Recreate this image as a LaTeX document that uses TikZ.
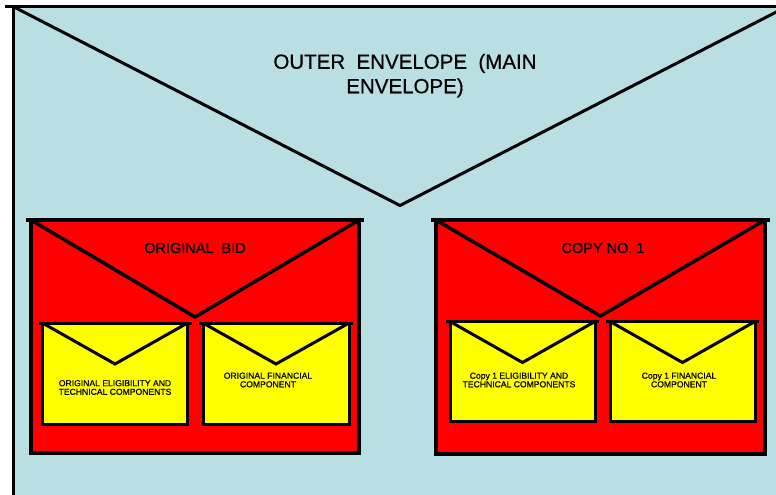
\documentclass[tikz,border=0pt]{standalone}
\usepackage{fontspec}
\setmainfont{Liberation Sans}
\newfontfamily\heavyfont[FakeBold=0.6]{Liberation Sans}
\usetikzlibrary{calc}
\definecolor{envblue}{HTML}{BADFE3}
\definecolor{envred}{HTML}{FF0000}
\definecolor{envyellow}{HTML}{FFFF00}
\tikzset{
  envbox/.style={rectangle, draw=black, inner sep=0pt, outer sep=0pt},
  outerenv/.style={envbox, fill=envblue, line width=3pt},
  redenv/.style={envbox, fill=envred, line width=3.5pt},
  yellowenv/.style={envbox, fill=envyellow, line width=3pt},
  flapline/.style={draw=black, line width=3pt},
  redflap/.style={draw=black, line width=3.5pt},
  bigtitle/.style={align=center, inner sep=0pt, font=\heavyfont\fontsize{20.5}{24.5}\selectfont},
  redtitle/.style={align=center, inner sep=0pt, font=\heavyfont\fontsize{14.5}{17}\selectfont},
  smalltext/.style={align=center, inner sep=0pt, font=\heavyfont\fontsize{8.6}{8.6}\selectfont}
}
\begin{document}
\begin{tikzpicture}[x=1pt,y=-1pt]
\useasboundingbox (0,0) rectangle (776,495);
\clip (0,0) rectangle (776,495);
% outer envelope
\node[outerenv, minimum width=774pt, minimum height=534pt] (main) at (400,273.5) {};
\draw[flapline] ($(main.north west)+(-8,0)$) -- ($(main.north east)+(8,0)$);
\draw[flapline] (main.north west) -- ($(main.north)+(0,199)$) -- (main.north east);
\node[bigtitle] (maintitle) at (405,75.7) {OUTER\ \ ENVELOPE\ \ (MAIN\\ENVELOPE)};
% original bid envelope
\node[redenv, minimum width=328pt, minimum height=233pt] (orig) at (195,336.5) {};
\draw[redflap] ($(orig.north west)+(-5,0)$) -- ($(orig.north east)+(5,0)$);
\draw[redflap] (orig.north west) -- ($(orig.north)+(0,97)$) -- (orig.north east);
\node[redtitle] (origtitle) at (195,248) {ORIGINAL\ \ BID};
% copy envelope
\node[redenv, minimum width=329pt, minimum height=234pt] (copy) at (600.5,337) {};
\draw[redflap] ($(copy.north west)+(-5,0)$) -- ($(copy.north east)+(5,0)$);
\draw[redflap] (copy.north west) -- ($(copy.north)+(0,96)$) -- (copy.north east);
\node[redtitle] (copytitle) at (603,248) {COPY NO. 1};
% inner yellow envelopes
\node[yellowenv, minimum width=145pt, minimum height=101pt] (origtech) at (115,373.5) {};
\node[yellowenv, minimum width=146pt, minimum height=101pt] (origfin) at (276,373.5) {};
\node[yellowenv, minimum width=145pt, minimum height=100pt] (copytech) at (522.5,371.5) {};
\node[yellowenv, minimum width=145pt, minimum height=100pt] (copyfin) at (682.5,371.5) {};
\foreach \e in {origtech,origfin,copytech,copyfin}{
  \draw[flapline] ($(\e.north west)+(-4,0)$) -- ($(\e.north east)+(4,0)$);
  \draw[flapline] (\e.north west) -- ($(\e.north)+(0,41)$) -- (\e.north east);
}
\node[smalltext] (origtechtext) at (115,387.5) {ORIGINAL ELIGIBILITY AND\\TECHNICAL COMPONENTS};
\node[smalltext] (origfintext) at (268,380) {ORIGINAL FINANCIAL\\COMPONENT};
\node[smalltext] (copytechtext) at (519,380) {Copy 1 ELIGIBILITY AND\\TECHNICAL COMPONENTS};
\node[smalltext] (copyfintext) at (679,380) {Copy 1 FINANCIAL\\COMPONENT};
\end{tikzpicture}
\end{document}
